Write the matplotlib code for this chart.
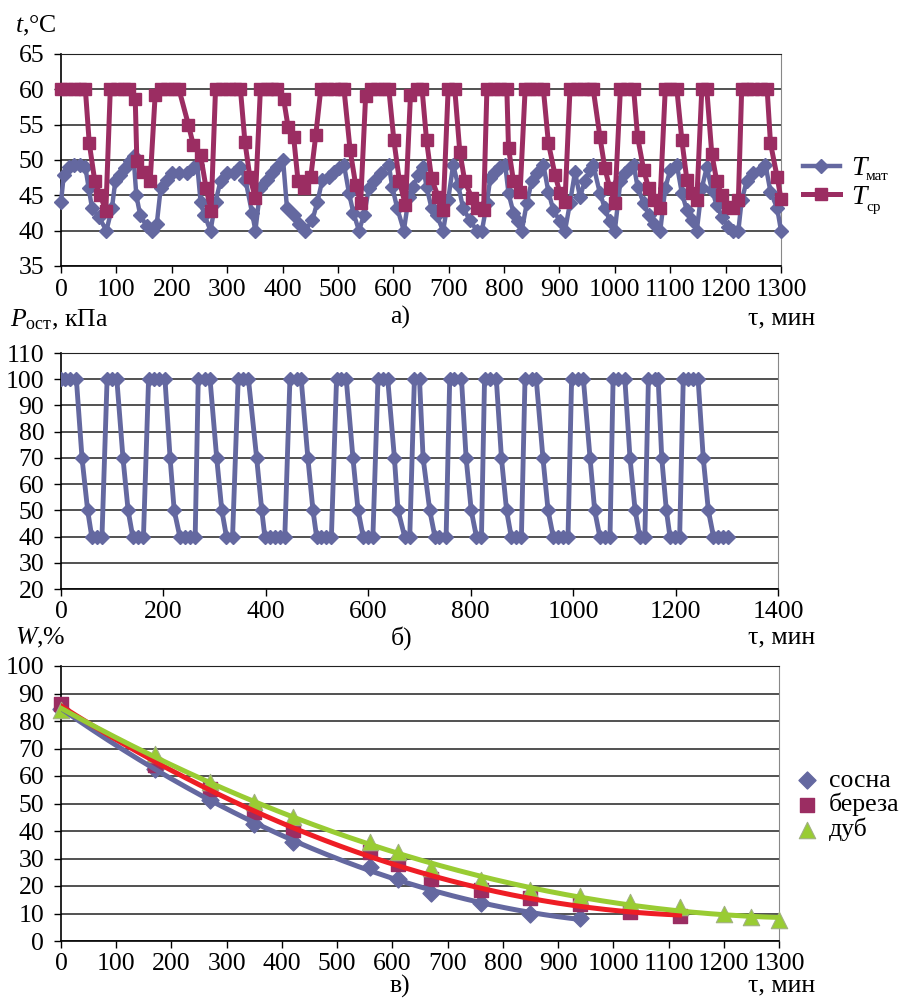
import numpy as np
import matplotlib
matplotlib.use("Agg")
import matplotlib.pyplot as plt

plt.rcParams['font.family'] = ['Liberation Serif', 'DejaVu Serif']
plt.rcParams['mathtext.fontset'] = 'custom'
plt.rcParams['mathtext.rm'] = 'Liberation Serif'
plt.rcParams['mathtext.it'] = 'Liberation Serif:italic'

# ---- panel a: temperatures ----
t_mat = [0, 5, 14, 23, 34, 44, 50, 56, 68, 82,
         92, 98, 107, 116, 125, 131, 136, 143, 155, 164,
         173, 180, 192, 201, 213, 228, 239, 246, 252, 259,
         270, 279, 288, 300, 312, 324, 333, 345, 351, 360,
         372, 381, 390, 401, 408, 420, 429, 441, 454, 463,
         472, 484, 493, 502, 511, 520, 528, 538, 547, 556,
         565, 577, 592, 598, 607, 619, 628, 636, 645, 654,
         660, 669, 678, 690, 699, 708, 717, 726, 738, 751,
         760, 769, 775, 784, 793, 802, 808, 817, 826, 832,
         841, 850, 859, 871, 880, 889, 901, 910, 919, 928,
         937, 946, 955, 961, 973, 982, 991, 1000, 1010, 1019,
         1028, 1034, 1041, 1052, 1061, 1070, 1082, 1091, 1100, 1112,
         1121, 1130, 1139, 1148, 1157, 1166, 1175, 1184, 1193, 1205,
         1214, 1223, 1229, 1238, 1250, 1263, 1272, 1281, 1293, 1300]
T_mat = [44, 47.9, 49, 49.3, 49.3, 49, 46, 43.2, 42, 40,
         43.2, 47, 47.9, 48.8, 49.8, 50.5, 45, 42.2, 40.6, 40,
         41, 46, 47.2, 48.1, 48.1, 48.1, 48.8, 49.3, 44.1, 42.2,
         40, 44.1, 47, 48.1, 48.1, 49, 47.2, 42.5, 40, 46,
         47.2, 48.1, 49, 50, 43.2, 42.2, 41, 40, 41.5, 44.1,
         47.2, 47.6, 48.3, 48.8, 49.3, 45.3, 42.5, 40, 42.2, 46,
         47, 48.1, 49.3, 46.2, 43.2, 40, 44.8, 46.2, 47.9, 49,
         46.2, 43.2, 42.2, 40, 44.3, 49.3, 46.5, 43.2, 41.5, 40,
         40, 43.9, 47.4, 48.3, 49, 49.3, 45.3, 42.5, 41.3, 40,
         43.9, 47, 48.1, 49.3, 45.5, 42.9, 41.3, 40, 43.9, 48.3,
         44.8, 47, 48.6, 49.3, 45.3, 43.2, 41.3, 40, 47, 48.1,
         48.8, 49.3, 46.2, 43.9, 42.2, 41, 40, 46, 48.6, 49.3,
         45.3, 42.9, 41.5, 40, 46, 49, 45.8, 43.6, 42, 40.5,
         40, 40, 44.3, 47, 48.1, 48.6, 49.3, 45.5, 43.2, 40]

t_sr = [0, 11, 23, 35, 44, 51, 61, 71, 81, 89,
        101, 113, 122, 134, 137, 148, 161, 170, 180, 192,
        204, 213, 230, 239, 252, 262, 271, 279, 291, 303,
        315, 324, 332, 341, 351, 360, 372, 381, 390, 402,
        410, 420, 428, 439, 451, 460, 469, 481, 493, 505,
        511, 522, 532, 541, 550, 559, 571, 583, 592, 601,
        611, 622, 631, 643, 652, 660, 669, 681, 690, 699,
        711, 720, 729, 742, 751, 763, 769, 781, 793, 805,
        808, 817, 829, 838, 847, 859, 871, 880, 892, 901,
        910, 919, 931, 943, 955, 961, 973, 982, 991, 1000,
        1010, 1022, 1034, 1041, 1052, 1061, 1070, 1081, 1091, 1100,
        1112, 1121, 1130, 1139, 1148, 1157, 1166, 1175, 1184, 1193,
        1205, 1214, 1223, 1229, 1238, 1250, 1263, 1275, 1281, 1293,
        1300]
T_sr = [60, 60, 60, 60, 60, 52.4, 47, 45, 42.8, 60,
        60, 60, 60, 58.7, 49.8, 48.3, 47, 59.2, 60, 60,
        60, 60, 55, 52.1, 50.7, 46, 42.8, 60, 60, 60,
        60, 60, 52.6, 47.6, 44.6, 60, 60, 60, 60, 58.6,
        54.7, 53.3, 47, 46, 47.6, 53.5, 60, 60, 60, 60,
        60, 51.4, 46.5, 43.9, 59, 60, 60, 60, 60, 52.8,
        47, 43.6, 59.2, 60, 60, 52.8, 47.4, 44.8, 42.9, 60,
        60, 51.2, 47, 44.6, 43.2, 42.9, 60, 60, 60, 60,
        51.7, 47, 45.5, 60, 60, 60, 60, 52.4, 47.9, 45.3,
        44.1, 60, 60, 60, 60, 60, 53.3, 48.8, 46, 43.9,
        60, 60, 60, 53.3, 48.6, 46, 44.3, 43.2, 60, 60,
        60, 52.8, 47.2, 45.3, 44.3, 60, 60, 50.9, 47, 45,
        43.4, 43.2, 44.3, 60, 60, 60, 60, 60, 52.4, 47.6,
        44.5]

# ---- panel b: residual pressure ----
t_p = [0, 8, 18, 30, 41, 52, 60, 70, 80, 90, 99, 109,
       121, 131, 140, 151, 161, 171, 181, 192, 203,
       213, 221, 232, 242, 252, 262, 268, 281, 291,
       304, 314, 323, 335, 346, 356, 366,
       382, 392, 398, 408, 418, 427, 437, 447, 460, 469,
       482, 492, 499, 508, 518, 528, 538, 547, 557,
       570, 580, 590, 599, 609, 619, 629, 638,
       651, 658, 671, 681, 690, 700,
       707, 720, 730, 739, 752, 759, 768, 782,
       791, 801, 811, 821, 827, 837, 850,
       860, 870, 879, 889, 899, 906, 919, 928,
       941, 951, 961, 971, 980, 990, 997, 1010, 1020,
       1033, 1042, 1052, 1062, 1072, 1078, 1088, 1101,
       1111, 1121, 1130, 1140, 1147, 1160, 1166,
       1173, 1182, 1189, 1199, 1208, 1215, 1225, 1235, 1244,
       1254, 1264, 1274, 1283, 1293, 1303]
P_ost = [100, 100, 100, 100, 70, 50, 40, 40, 40, 100, 100, 100,
         70, 50, 40, 40, 40, 100, 100, 100, 100,
         70, 50, 40, 40, 40, 40, 100, 100, 100,
         70, 50, 40, 40, 100, 100, 100,
         70, 50, 40, 40, 40, 40, 40, 100, 100, 100,
         70, 50, 40, 40, 40, 40, 100, 100, 100,
         70, 50, 40, 40, 40, 100, 100, 100,
         70, 50, 40, 40, 100, 100,
         70, 50, 40, 40, 40, 100, 100, 100,
         70, 50, 40, 40, 100, 100, 100,
         70, 50, 40, 40, 40, 100, 100, 100,
         70, 50, 40, 40, 40, 40, 100, 100, 100,
         70, 50, 40, 40, 40, 100, 100, 100,
         70, 50, 40, 40, 100, 100, 100,
         70, 50, 40, 40, 40, 100, 100, 100, 100,
         70, 50, 40, 40, 40, 40]

# ---- panel c: moisture ----
t_pine = [0, 170, 270, 350, 420, 560, 610, 670, 760, 850, 940]
W_pine = [84.5, 62.7, 51.2, 42.7, 36, 27, 22.7, 17.6, 13.8, 9.7, 8.4]
t_birch = [0, 170, 270, 350, 420, 560, 610, 670, 760, 850, 940, 1030, 1120]
W_birch = [86.3, 63.9, 55.4, 46.9, 40.2, 32.4, 28.1, 22.7, 18.7, 15.8, 13.3, 10.5, 9.0]
t_oak = [0, 170, 270, 350, 420, 560, 610, 670, 760, 850, 940, 1030, 1120, 1200, 1250, 1300]
W_oak = [83.9, 68.1, 57.8, 50.5, 45.1, 36, 32.4, 26.6, 22.3, 18.7, 16.2, 14.2, 12.4, 9.9, 8.7, 7.5]

BLUE = '#6468a0'
PLUM = '#9b2d62'
RED = '#ee1d25'
GREEN = '#99cc33'
FS = 18.5

W, H = 901, 999
fig = plt.figure(figsize=(W / 100, H / 100), dpi=100)


def box(l, t, r, b):
    return [l / W, 1 - b / H, (r - l) / W, (b - t) / H]


def fx(x):
    return x / W


def fy(y):
    return 1 - y / H


def style(ax):
    ax.grid(axis='y', color='#222222', lw=1.1)
    ax.set_axisbelow(True)
    ax.tick_params(direction='out', length=5, width=1, labelsize=FS, colors='black')
    ax.tick_params(axis='y', pad=7)
    ax.tick_params(axis='x', pad=4)
    for s in ['left', 'bottom']:
        ax.spines[s].set_color('black')
        ax.spines[s].set_linewidth(1.2)
    ax.spines['top'].set_color('#222222')
    ax.spines['right'].set_color('#888888')


# a)
ax1 = fig.add_axes(box(61, 54, 781, 266))
ln_mat, = ax1.plot(t_mat, T_mat, color=BLUE, lw=3.2, marker='D', ms=7, clip_on=False, zorder=3)
ln_sr, = ax1.plot(t_sr, T_sr, color=PLUM, lw=3.6, marker='s', ms=8, clip_on=False, zorder=4)
ax1.set_xlim(0, 1300)
ax1.set_ylim(35, 65)
ax1.set_xticks(np.arange(0, 1301, 100))
ax1.set_yticks(np.arange(35, 66, 5))
style(ax1)
fig.legend([ln_mat, ln_sr], ['T', 'T'], loc='center left',
           bbox_to_anchor=(fx(803), fy(183)), frameon=False,
           prop={'size': 20, 'style': 'italic'}, handlelength=1.33,
           handletextpad=0.4, labelspacing=0.12, borderpad=0, borderaxespad=0)
fig.text(fx(866), fy(177), 'мат', fontsize=11, va='center', ha='left')
fig.text(fx(866), fy(207), 'ср', fontsize=11, va='center', ha='left')

# b)
ax2 = fig.add_axes(box(61, 353, 778, 589))
ax2.plot(t_p, P_ost, color=BLUE, lw=3.5, marker='D', ms=7.5, zorder=3)
ax2.set_xlim(0, 1400)
ax2.set_ylim(20, 110)
ax2.set_xticks(np.arange(0, 1401, 200))
ax2.set_yticks(np.arange(20, 111, 10))
style(ax2)

# c)
ax3 = fig.add_axes(box(61, 666, 779, 941))
h1 = ax3.scatter(t_pine, W_pine, marker='D', s=75, color=BLUE, zorder=3, clip_on=False)
h2 = ax3.scatter(t_birch, W_birch, marker='s', s=115, color=PLUM, zorder=3, clip_on=False)
h3 = ax3.scatter(t_oak, W_oak, marker='^', s=140, color=GREEN, edgecolors='#a0b080',
                 linewidths=0.8, zorder=3, clip_on=False)
for tt, ww, c in [(t_pine, W_pine, BLUE), (t_birch, W_birch, RED), (t_oak, W_oak, GREEN)]:
    k = np.polyfit(tt, ww, 2)
    xs = np.linspace(tt[0], tt[-1], 200)
    ax3.plot(xs, np.polyval(k, xs), color=c, lw=3.6, zorder=4)
ax3.set_xlim(0, 1300)
ax3.set_ylim(0, 100)
ax3.set_xticks(np.arange(0, 1301, 100))
ax3.set_yticks(np.arange(0, 101, 10))
style(ax3)
fig.legend([h1, h2, h3], ['сосна', 'береза', 'дуб'], loc='center left',
           bbox_to_anchor=(fx(799), fy(805)), frameon=False, fontsize=FS,
           handlelength=0.6, handletextpad=0.55, labelspacing=0.05, borderpad=0,
           borderaxespad=0, scatterpoints=1)

# labels
fig.text(fx(15), fy(26), r'$t$,°C', fontsize=FS, va='center', ha='left')
fig.text(fx(400), fy(317), 'а)', fontsize=FS, va='center', ha='center')
fig.text(fx(815), fy(318), 'τ, мин', fontsize=FS, va='center', ha='right')
fig.text(fx(10), fy(320), r'$P_{\mathrm{ост}}$, кПа', fontsize=FS, va='center', ha='left')
fig.text(fx(402), fy(638), 'б)', fontsize=FS, va='center', ha='center')
fig.text(fx(815), fy(637), 'τ, мин', fontsize=FS, va='center', ha='right')
fig.text(fx(15), fy(638), r'$W$,%', fontsize=FS, va='center', ha='left')
fig.text(fx(400), fy(986), 'в)', fontsize=FS, va='center', ha='center')
fig.text(fx(815), fy(985), 'τ, мин', fontsize=FS, va='center', ha='right')

fig.savefig('out.png', dpi=100)
